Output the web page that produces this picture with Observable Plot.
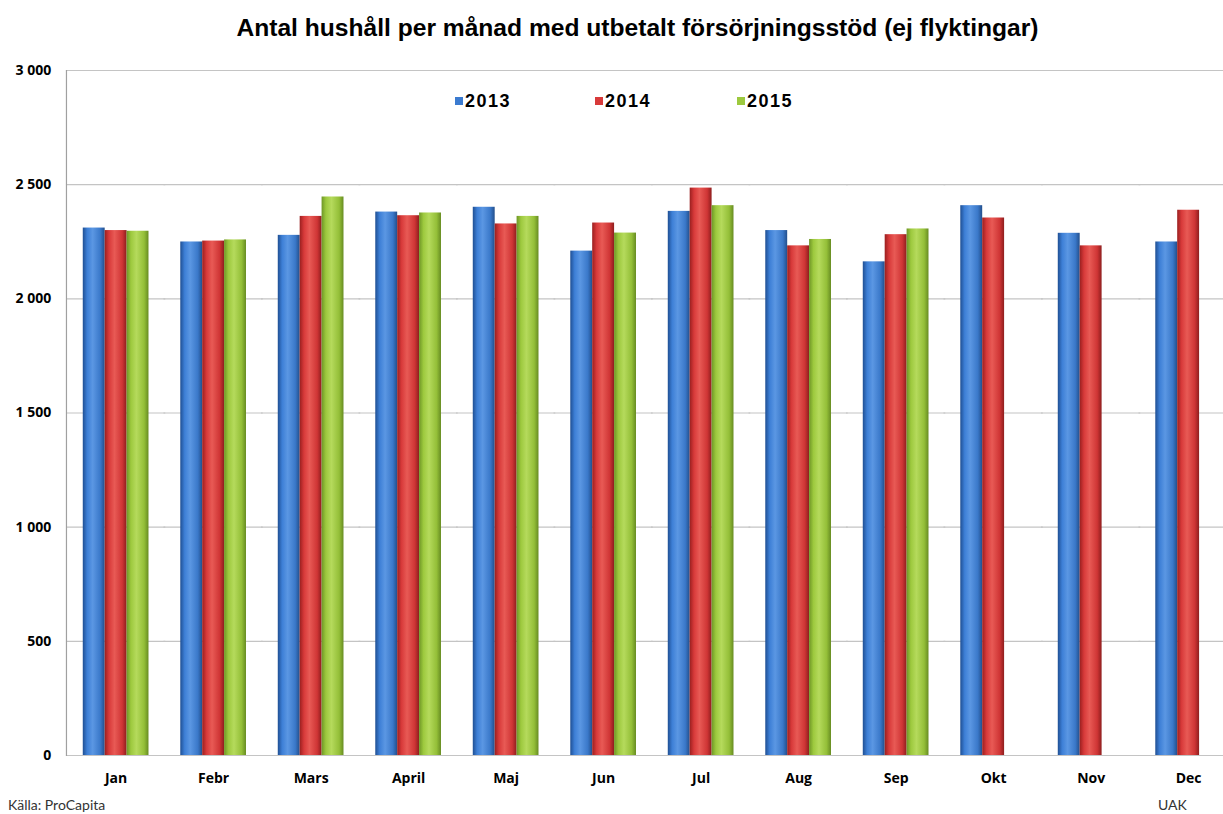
<!DOCTYPE html>
<html>
<head>
<meta charset="utf-8">
<script src="https://cdn.jsdelivr.net/npm/d3@7"></script>
<script src="https://cdn.jsdelivr.net/npm/@observablehq/plot@0.6"></script>
<style>
  html, body { margin: 0; padding: 0; background: #fff; }
  #wrap { position: relative; width: 1223px; height: 814px; overflow: hidden; font-family: "Liberation Sans", Arial, sans-serif; }
  #title { position: absolute; left: 0; top: 16px; width: 1223px; padding-left: 52px; box-sizing: border-box; text-align: center; font-weight: bold; font-size: 24.6px; line-height: 24.6px; color: #000; white-space: nowrap; }
  #chart { position: absolute; left: 0; top: 55px; }
  #legend { position: absolute; top: 90px; left: 0; width: 1223px; height: 24px; }
  .li { position: absolute; top: 0; font-weight: bold; font-size: 18px; letter-spacing: 1.5px; color: #000; line-height: 22px; }
  .sw { display: inline-block; width: 8px; height: 8px; margin-right: 2px; vertical-align: 2px; }
  .foot { position: absolute; top: 796px; font-family: Lato, "Open Sans", sans-serif; font-size: 14px; color: #333; }
  #chart svg text { font-family: "Open Sans", sans-serif; font-weight: bold; }
</style>
</head>
<body>
<div id="wrap">
  <div id="title">Antal hushåll per månad med utbetalt försörjningsstöd (ej flyktingar)</div>
  <div id="chart"></div>
  <div id="legend"></div>
  <div class="foot" style="left:8px">Källa: ProCapita</div>
  <div class="foot" style="left:1158px">UAK</div>
</div>
<script>
const months = ["Jan","Febr","Mars","April","Maj","Jun","Jul","Aug","Sep","Okt","Nov","Dec"];
const years = ["2013","2014","2015"];
const v2013 = [2310,2249,2278,2380,2401,2209,2383,2299,2162,2408,2287,2249];
const v2014 = [2299,2253,2361,2364,2328,2332,2485,2232,2281,2354,2232,2388];
const v2015 = [2296,2258,2446,2376,2361,2288,2408,2260,2306,null,null,null];
const yTicks = [0,500,1000,1500,2000,2500,3000];
const colors = ["#3b7bd0","#d83a3a","#9dc93e"];

const series = {"2013": v2013, "2014": v2014, "2015": v2015};
const data = [];
for (const yr of years) months.forEach((m, i) => { const v = series[yr][i]; if (v != null) data.push({month: m, year: yr, value: v}); });

const fmt = d => d >= 1000 ? d3.format(",")(d).replace(/,/g, " ") : String(d);

const svg = Plot.plot({
  width: 1223, height: 745,
  marginTop: 15, marginBottom: 45, marginLeft: 66, marginRight: 2,
  style: {fontSize: "14px", color: "#000", background: "transparent", overflow: "visible"},
  fx: {domain: months, paddingInner: 0.326, paddingOuter: 0.086, align: 1, round: false, label: null, axis: "bottom", tickSize: 0, tickPadding: 18},
  x: {domain: years, axis: null, padding: 0, round: false},
  y: {domain: [0, 3000], ticks: yTicks, tickFormat: fmt, tickSize: 0, tickPadding: 32, label: null},
  color: {domain: years, range: ["url(#g2013)", "url(#g2014)", "url(#g2015)"]},
  marks: [
    Plot.ruleY(yTicks, {stroke: "#c4c4c4", strokeWidth: 1.2, insetLeft: -16.8, insetRight: -16.8}),
    Plot.barY(data, {fx: "month", x: "year", y: "value", fill: "year"}),
    Plot.frame({facet: "super", anchor: "left", stroke: "#a0a0a0", strokeWidth: 1.2, insetLeft: -16.8})
  ]
});

const ns = "http://www.w3.org/2000/svg";
const defs = document.createElementNS(ns, "defs");
const stopsFor = {
  "2013": ["#1f4f93", "#3d7fd6", "#5b97e3", "#3a78c9", "#234f8c"],
  "2014": ["#9a1f1f", "#d83a3a", "#e85a55", "#cf3535", "#8e1e1e"],
  "2015": ["#6e9626", "#9dc93e", "#b5da5c", "#94bf38", "#678c22"]
};
for (const yr of years) {
  const g = document.createElementNS(ns, "linearGradient");
  g.setAttribute("id", "g" + yr);
  g.setAttribute("x1", "0"); g.setAttribute("x2", "1"); g.setAttribute("y1", "0"); g.setAttribute("y2", "0");
  const offs = [0, 0.2, 0.45, 0.8, 1];
  stopsFor[yr].forEach((c, i) => {
    const s = document.createElementNS(ns, "stop");
    s.setAttribute("offset", offs[i]); s.setAttribute("stop-color", c);
    g.appendChild(s);
  });
  defs.appendChild(g);
}
svg.insertBefore(defs, svg.firstChild);
document.getElementById("chart").appendChild(svg);

const legend = document.getElementById("legend");
const lx = [455, 595, 737];
years.forEach((yr, i) => {
  const d = document.createElement("div");
  d.className = "li";
  d.style.left = lx[i] + "px";
  d.innerHTML = `<span class="sw" style="background:${colors[i]}"></span>${yr}`;
  legend.appendChild(d);
});
</script>
</body>
</html>
